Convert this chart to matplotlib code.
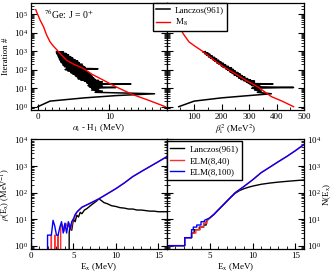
import matplotlib
matplotlib.use("Agg")
import matplotlib.pyplot as plt
from matplotlib.ticker import MultipleLocator, LogLocator, NullFormatter, FixedLocator

plt.rcParams['font.family'] = ['Liberation Serif', 'DejaVu Serif']
plt.rcParams['mathtext.fontset'] = 'stix'
plt.rcParams['axes.linewidth'] = 0.9

# ---- top panels: Lanczos coefficients vs iteration ----
lz_iter = [1, 2, 3, 4, 5, 6, 7, 8, 9, 10, 11, 12, 13, 14, 15, 16, 17, 18, 19, 20,
           22, 24, 26, 28, 30, 33, 36, 40, 44, 48, 53, 58, 64, 70, 77, 85, 94, 103,
           113, 124, 136, 150, 165, 180, 200, 220, 240, 265, 290, 320, 350, 385, 420,
           460, 510, 560, 620, 680, 750, 820, 900, 961]
lz_alpha = [0.0, 1.7, 6.5, 11.0, 16.3, 8.0, 9.0, 7.5, 8.5, 7.5, 10.9, 7.2, 9.0, 7.0,
            8.5, 7.2, 13.0, 7.0, 8.5, 6.8,
            9.0, 6.5, 8.5, 6.0, 8.0, 5.6, 7.8, 5.5, 7.6, 5.2, 7.4, 4.9, 7.2, 4.6, 7.0,
            4.2, 6.8, 3.8, 8.4, 4.0, 6.6, 3.7, 6.3, 3.5, 6.2, 3.4, 5.8, 3.2, 5.6, 3.1,
            5.2, 3.0, 4.9, 2.9, 4.6, 2.8, 4.3, 2.7, 4.0, 2.6, 3.6, 2.6]
lz_beta2 = [44, 100, 200, 300, 381, 330, 345, 320, 340, 310, 462, 320, 340, 310, 335,
            305, 387, 300, 320, 295,
            290, 320, 280, 305, 270, 295, 262, 285, 255, 275, 245, 268, 238, 260, 230,
            250, 222, 243, 215, 236, 205, 225, 198, 215, 190, 207, 182, 198, 175, 190,
            168, 182, 160, 175, 152, 166, 145, 158, 138, 150, 132, 140]

m8_alpha = [-0.3, 0.3, 0.8, 1.2, 1.7, 2.2, 2.7, 3.3, 4.0, 5.0, 6.3, 7.6, 9.1, 10.9,
            13.2, 15.5, 17.8]
m8_alpha_iter = [1.8e5, 5e4, 2.1e4, 8000, 3250, 1850, 1150, 630, 330, 200, 120, 56,
                 28, 12, 4.6, 2.2, 1.0]
m8_beta2 = [10, 25, 44, 60, 81, 105, 131, 165, 206, 248, 290, 331, 381, 420, 462]
m8_beta2_iter = [1.8e5, 6e4, 2.6e4, 9000, 3250, 1800, 1000, 400, 146, 63, 26, 12,
                 3.5, 2.0, 1.0]

# ---- bottom panels: level density and cumulative number ----
lz_E = [4.4, 4.5, 4.6, 4.8, 5.0, 5.2, 5.4, 5.6, 5.8, 6.0, 6.3, 6.6, 7.0, 7.4, 7.8,
        8.0, 8.3, 8.6, 9.0, 9.5, 10, 10.5, 11, 11.5, 12, 12.5, 13, 13.5, 14, 14.5,
        15, 15.5, 16]
lz_rho = [0, 3, 6, 3.8, 10, 8, 14, 12, 18, 16, 22, 25, 32, 40, 50,
          58, 50, 42, 38, 32, 30, 27, 26, 24, 24, 22, 22, 21, 20, 20, 19, 19, 19]

elm40_E = [2.35, 2.4, 2.45, 2.75, 2.8, 2.85, 3.15, 3.2, 3.25, 3.5, 3.7, 3.9, 4.1,
           4.3, 4.5, 4.7, 4.9, 5.1, 5.4, 6, 7, 8, 9, 10, 11, 12, 13, 14, 15, 16]
elm40_rho = [0, 2.5, 0, 0, 2.5, 0, 0, 2.5, 0, 5, 6, 3.5, 7, 5, 7, 4, 9, 11, 18,
             28, 40, 58, 90, 140, 230, 400, 620, 950, 1450, 2240]

elm100_E = [0.05, 0.1, 1.95, 1.95, 2.4, 2.6, 2.8, 3.0, 3.2, 3.4, 3.6, 3.8, 4.0, 4.2,
            4.4, 4.6, 4.8, 5.0, 5.2, 5.5, 6, 7, 8, 9, 10, 11, 12, 13, 14, 15, 16]
elm100_rho = [2.5, 0, 0, 2.5, 2.5, 9, 5.5, 2.5, 2.5, 5, 8, 3, 7, 3, 8, 4, 8, 10,
              15, 20, 28, 40, 58, 90, 140, 230, 400, 620, 950, 1450, 2240]

lzN_E = [0, 0, 2.1, 2.1, 2.9, 2.9, 3.2, 3.2, 3.8, 3.8, 4.3, 4.3, 4.6, 4.6, 5.0,
         5.5, 6.0, 6.5, 7.0, 7.5, 8.0, 8.5, 9.0, 9.5, 10, 11, 12, 13, 14, 15, 16]
lzN = [0.01, 1, 1, 2, 2, 3, 3, 4, 4, 5, 5, 6, 6, 8, 11,
       15, 22, 32, 47, 68, 95, 120, 140, 158, 175, 205, 228, 248, 265, 282, 298]

elm40N_E = [0, 0, 2.1, 2.1, 2.9, 2.9, 3.4, 3.4, 3.9, 3.9, 4.3, 4.3, 4.7, 4.7, 5.0,
            5.5, 6, 7, 8, 9, 10, 11, 12, 13, 14, 15, 16]
elm40N = [0.01, 1, 1, 2, 2, 3, 3, 4, 4, 5, 5, 7, 7, 9, 11,
          15, 22, 47, 100, 170, 300, 560, 900, 1450, 2300, 3800, 6500]

elm100N_E = [0, 0, 2.1, 2.1, 2.9, 2.9, 3.1, 3.1, 3.5, 3.5, 4.0, 4.0, 4.4, 4.4, 4.7,
             5.0, 5.5, 6, 7, 8, 9, 10, 11, 12, 13, 14, 15, 16]
elm100N = [0.01, 1, 1, 2, 2, 4, 4, 5, 5, 6, 6, 8, 8, 9, 10,
           11, 15, 22, 47, 100, 170, 300, 560, 900, 1450, 2300, 3800, 6500]

fig = plt.figure(figsize=(3.32, 2.72), dpi=100)
ax_tl = fig.add_axes([0.0925, 0.5956, 0.4096, 0.3923])
ax_tr = fig.add_axes([0.5021, 0.5956, 0.4136, 0.3923])
ax_bl = fig.add_axes([0.0934, 0.0846, 0.4087, 0.4026])
ax_br = fig.add_axes([0.5021, 0.0846, 0.4136, 0.4026])

fs = 6.5

def style(ax, ylim):
    ax.set_yscale('log')
    ax.set_ylim(*ylim)
    ax.yaxis.set_major_locator(LogLocator(base=10, numticks=10))
    ax.yaxis.set_minor_locator(LogLocator(base=10, subs=range(2, 10), numticks=20))
    ax.yaxis.set_minor_formatter(NullFormatter())
    ax.tick_params(which='both', direction='in', left=True, right=True,
                   top=False, bottom=True, labelsize=fs, pad=2)
    ax.tick_params(which='major', length=4, width=0.8)
    ax.tick_params(which='minor', length=2, width=0.6)

# top left
l1, = ax_tl.plot(lz_alpha, lz_iter, color='black', lw=1.1)
l2, = ax_tl.plot(m8_alpha, m8_alpha_iter, color='red', lw=1.0)
style(ax_tl, (0.66, 4e5))
ax_tl.set_xlim(-1, 18)
ax_tl.xaxis.set_major_locator(FixedLocator([0, 10]))
ax_tl.xaxis.set_minor_locator(MultipleLocator(1))
ax_tl.set_ylabel('Iteration #', fontsize=fs)
ax_tl.yaxis.set_label_coords(-0.15, 0.5)
ax_tl.set_xlabel(r'$\alpha_{\rm i}$ - H$_{\rm 1}$ (MeV)', fontsize=fs, labelpad=1)
ax_tl.text(0.10, 0.90, r'$^{76}$Ge: J = 0$^{+}$', transform=ax_tl.transAxes,
           fontsize=7, va='center', ha='left')

# top right
ax_tr.plot(lz_beta2, lz_iter, color='black', lw=1.1)
ax_tr.plot(m8_beta2, m8_beta2_iter, color='red', lw=1.0)
style(ax_tr, (0.66, 4e5))
ax_tr.set_xlim(0, 500)
ax_tr.xaxis.set_major_locator(FixedLocator([100, 200, 300, 400, 500]))
ax_tr.xaxis.set_minor_locator(MultipleLocator(50))
ax_tr.tick_params(labelleft=False)
ax_tr.set_xlabel(r'$\beta^2_{\rm i}$ (MeV$^2$)', fontsize=fs, labelpad=1)

fig.legend([l1, l2], ['Lanczos(961)', r'M$_8$'], loc='upper left',
           bbox_to_anchor=(153 / 332, 1 - 3 / 272), fontsize=fs,
           fancybox=False, framealpha=1, edgecolor='black', handlelength=1.5,
           handletextpad=0.6, borderpad=0.35, labelspacing=0.25, borderaxespad=0)

# bottom left
ax_bl.plot(lz_E, lz_rho, color='black', lw=1.0)
ax_bl.plot(elm40_E, elm40_rho, color='#ff3030', lw=1.0)
ax_bl.plot(elm100_E, elm100_rho, color='#0000ff', lw=1.0)
style(ax_bl, (0.75, 1e4))
ax_bl.set_xlim(0, 16)
ax_bl.xaxis.set_major_locator(FixedLocator([0, 5, 10, 15]))
ax_bl.xaxis.set_minor_locator(MultipleLocator(1))
ax_bl.set_ylabel(r'$\rho$(E$_{\rm x}$) (MeV$^{-1}$)', fontsize=6)
ax_bl.yaxis.set_label_coords(-0.135, 0.5)
ax_bl.set_xlabel(r'E$_{\rm x}$ (MeV)', fontsize=fs, labelpad=1)

# bottom right
b1, = ax_br.plot(lzN_E, lzN, color='black', lw=1.0)
b2, = ax_br.plot(elm40N_E, elm40N, color='#ff3030', lw=1.0)
b3, = ax_br.plot(elm100N_E, elm100N, color='#0000ff', lw=1.0)
style(ax_br, (0.75, 1e4))
ax_br.set_xlim(0, 16)
ax_br.xaxis.set_major_locator(FixedLocator([5, 10, 15]))
ax_br.xaxis.set_minor_locator(MultipleLocator(1))
ax_br.tick_params(labelleft=False, labelright=True)
ax_br.yaxis.set_label_position('right')
ax_br.set_ylabel(r'N(E$_{\rm x}$)', fontsize=fs, rotation=90)
ax_br.yaxis.set_label_coords(1.13, 0.5)
ax_br.set_xlabel(r'E$_{\rm x}$ (MeV)', fontsize=fs, labelpad=1)
ax_br.legend([b1, b2, b3], ['Lanczos(961)', 'ELM(8,40)', 'ELM(8,100)'],
             loc='upper left', bbox_to_anchor=(0.0, 1 - 2 / 110), fontsize=fs,
             fancybox=False, framealpha=1, edgecolor='black', handlelength=1.5,
             handletextpad=0.6, borderpad=0.4, labelspacing=0.35, borderaxespad=0)

fig.savefig('out.png', dpi=100)
